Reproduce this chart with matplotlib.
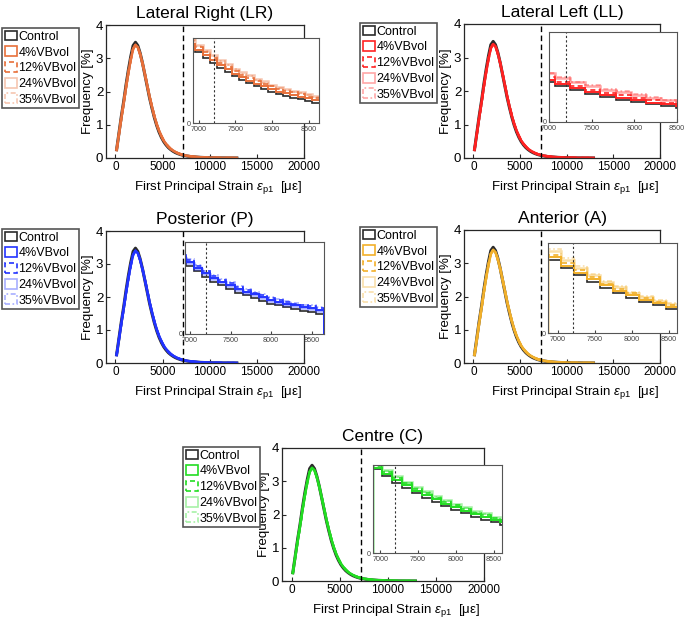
import matplotlib
matplotlib.use('Agg')
import matplotlib.pyplot as plt
from matplotlib.patches import Patch
from matplotlib.colors import to_rgba

plt.rcParams['font.family'] = ['Liberation Sans', 'DejaVu Sans']
plt.rcParams['mathtext.fontset'] = 'custom'
plt.rcParams['mathtext.rm'] = 'Liberation Sans'
plt.rcParams['mathtext.it'] = 'Liberation Sans:italic'

W, H = 687, 623

series_names = ['Control', '4%VBvol', '12%VBvol', '24%VBvol', '35%VBvol']
panel_titles = ['Lateral Right (LR)', 'Lateral Left (LL)', 'Posterior (P)', 'Anterior (A)', 'Centre (C)']
panel_colors = ['#E8703A', '#FF2222', '#2233FF', '#F2B02A', '#22DD22']
main_xticks = [0, 5000, 10000, 15000, 20000]
main_yticks = [0, 1, 2, 3, 4]
inset_xticks = [7000, 7500, 8000, 8500]
threshold = 7200

# main histogram (frequency %, bins of 250 from 0 to 13000)
main_edges = list(range(0, 13001, 250))
main_ctrl = [0.25, 0.75, 1.25, 1.7, 2.2, 2.65, 3.05, 3.38, 3.48, 3.38, 3.15, 2.85, 2.5,
             2.15, 1.8, 1.5, 1.22, 0.98, 0.78, 0.62, 0.49, 0.39, 0.31, 0.25, 0.2, 0.16,
             0.13, 0.105, 0.085, 0.07, 0.058, 0.048, 0.04, 0.033, 0.027, 0.022, 0.018,
             0.015, 0.012, 0.01, 0.008, 0.0065, 0.005, 0.004, 0.0032, 0.0025, 0.002,
             0.0015, 0.0012, 0.001, 0.0008, 0.0006]
main_vb = [0.24, 0.72, 1.2, 1.65, 2.13, 2.57, 2.96, 3.28, 3.4, 3.33, 3.12, 2.84, 2.52,
           2.18, 1.84, 1.54, 1.26, 1.02, 0.82, 0.66, 0.52, 0.42, 0.34, 0.27, 0.22, 0.18,
           0.145, 0.117, 0.095, 0.078, 0.064, 0.053, 0.044, 0.036, 0.03, 0.025, 0.02,
           0.017, 0.014, 0.011, 0.009, 0.0072, 0.0057, 0.0045, 0.0036, 0.0028, 0.0022,
           0.0017, 0.0013, 0.001, 0.0008, 0.0006]

# inset zooms (frequency %), one list per series
lr_edges = list(range(6850, 8651, 100))
lr_ctrl = [0.090, 0.083, 0.077, 0.071, 0.065, 0.060, 0.055, 0.051, 0.047, 0.043, 0.040, 0.037, 0.034, 0.032, 0.030, 0.028, 0.026, 0.024]
lr_4 = [0.093, 0.086, 0.080, 0.074, 0.068, 0.063, 0.058, 0.054, 0.050, 0.046, 0.043, 0.040, 0.037, 0.035, 0.033, 0.031, 0.029, 0.027]
lr_12 = [0.096, 0.089, 0.083, 0.077, 0.071, 0.066, 0.061, 0.057, 0.053, 0.049, 0.046, 0.043, 0.040, 0.038, 0.036, 0.034, 0.031, 0.029]
lr_24 = [0.099, 0.092, 0.086, 0.080, 0.074, 0.069, 0.064, 0.060, 0.056, 0.052, 0.049, 0.045, 0.042, 0.040, 0.038, 0.036, 0.034, 0.032]
lr_35 = [0.098, 0.091, 0.085, 0.079, 0.073, 0.068, 0.063, 0.058, 0.055, 0.051, 0.047, 0.044, 0.041, 0.039, 0.037, 0.035, 0.033, 0.031]

ll_edges = list(range(6895, 8666, 177))
ll_ctrl = [0.045, 0.040, 0.0355, 0.0315, 0.028, 0.025, 0.022, 0.0195, 0.0175, 0.0155]
ll_4 = [0.047, 0.042, 0.0375, 0.0335, 0.030, 0.027, 0.024, 0.0215, 0.0195, 0.0175]
ll_12 = [0.050, 0.045, 0.040, 0.036, 0.0325, 0.0295, 0.0265, 0.024, 0.0215, 0.0195]
ll_24 = [0.054, 0.049, 0.044, 0.040, 0.036, 0.033, 0.030, 0.027, 0.0245, 0.022]
ll_35 = [0.055, 0.050, 0.045, 0.041, 0.037, 0.034, 0.031, 0.028, 0.025, 0.0225]

p_edges = list(range(6850, 8651, 100))
p_ctrl = [0.080, 0.074, 0.068, 0.062, 0.057, 0.053, 0.049, 0.045, 0.042, 0.039, 0.036, 0.033, 0.031, 0.029, 0.027, 0.025, 0.024, 0.022]
p_4 = [0.084, 0.078, 0.072, 0.066, 0.061, 0.057, 0.053, 0.049, 0.046, 0.043, 0.040, 0.037, 0.035, 0.033, 0.031, 0.029, 0.028, 0.026]
p_12 = [0.086, 0.080, 0.074, 0.068, 0.063, 0.059, 0.055, 0.051, 0.048, 0.045, 0.042, 0.039, 0.037, 0.035, 0.033, 0.031, 0.030, 0.028]
p_24 = [0.083, 0.077, 0.071, 0.065, 0.060, 0.056, 0.052, 0.048, 0.045, 0.042, 0.039, 0.036, 0.034, 0.032, 0.030, 0.028, 0.027, 0.025]
p_35 = [0.087, 0.081, 0.075, 0.069, 0.064, 0.060, 0.056, 0.052, 0.049, 0.046, 0.043, 0.040, 0.038, 0.036, 0.034, 0.032, 0.031, 0.029]

a_edges = list(range(6860, 8641, 178))
a_ctrl = [0.081, 0.072, 0.064, 0.057, 0.050, 0.044, 0.039, 0.035, 0.031, 0.027]
a_4 = [0.084, 0.075, 0.067, 0.060, 0.053, 0.047, 0.042, 0.037, 0.033, 0.029]
a_12 = [0.087, 0.078, 0.070, 0.062, 0.055, 0.049, 0.044, 0.039, 0.035, 0.031]
a_24 = [0.091, 0.081, 0.072, 0.064, 0.057, 0.051, 0.045, 0.040, 0.036, 0.032]
a_35 = [0.093, 0.083, 0.074, 0.066, 0.058, 0.052, 0.046, 0.041, 0.037, 0.033]

c_edges = list(range(6900, 8721, 130))
c_ctrl = [0.095, 0.087, 0.080, 0.074, 0.068, 0.063, 0.058, 0.053, 0.049, 0.045, 0.041, 0.038, 0.035, 0.032]
c_4 = [0.097, 0.090, 0.083, 0.077, 0.071, 0.066, 0.061, 0.056, 0.052, 0.048, 0.044, 0.041, 0.038, 0.035]
c_12 = [0.099, 0.092, 0.085, 0.079, 0.073, 0.068, 0.063, 0.058, 0.054, 0.050, 0.046, 0.043, 0.040, 0.037]
c_24 = [0.101, 0.094, 0.087, 0.081, 0.075, 0.070, 0.065, 0.060, 0.056, 0.052, 0.048, 0.045, 0.041, 0.038]
c_35 = [0.100, 0.093, 0.086, 0.080, 0.074, 0.069, 0.064, 0.059, 0.055, 0.051, 0.047, 0.044, 0.040, 0.037]

inset_edges = [lr_edges, ll_edges, p_edges, a_edges, c_edges]
inset_data = [[lr_ctrl, lr_4, lr_12, lr_24, lr_35],
              [ll_ctrl, ll_4, ll_12, ll_24, ll_35],
              [p_ctrl, p_4, p_12, p_24, p_35],
              [a_ctrl, a_4, a_12, a_24, a_35],
              [c_ctrl, c_4, c_12, c_24, c_35]]
inset_xlims = [(6920, 8640), (7000, 8500), (6940, 8650), (6865, 8615), (6905, 8610)]

# layout in pixels: (left, top, right, bottom)
main_boxes = [(106, 25, 304, 158), (464, 24, 660, 158), (106, 231, 304, 363),
              (464, 230, 660, 363), (282, 448, 484, 581)]
inset_boxes = [(193, 38, 319, 123), (549, 32, 677, 122), (185, 242, 324, 334),
               (548, 243, 677, 333), (373, 465, 502, 553)]
legend_corners = [(2, 28), (360, 23), (2, 229), (360, 227), (183, 447)]


def rect(box):
    l, t, r, b = box
    return [l / W, 1 - b / H, (r - l) / W, (b - t) / H]


fig = plt.figure(figsize=(W / 100, H / 100), dpi=100)
ctrl_col = '#2b2b2b'
spine_col = '#262626'
styles = ['-', '-', (0, (3, 2)), '-', (0, (3, 1.5, 1, 1.5))]
main_mid = [(a + b) / 2 for a, b in zip(main_edges[:-1], main_edges[1:])]

for k in range(5):
    col = panel_colors[k]
    light = to_rgba(col, 0.4)
    cols = [ctrl_col, col, col, light, light]
    lws = [1.2, 1.4, 1.2, 1.8, 1.2]

    ax = fig.add_axes(rect(main_boxes[k]))
    ax.plot(main_mid, main_ctrl, color=ctrl_col, lw=2.2)
    for j in range(1, 5):
        ax.plot(main_mid, main_vb, color=cols[j], lw=1.8, ls=styles[j])
    ax.axvline(threshold, color='k', ls=(0, (4, 2.5)), lw=1.0)
    ax.set_xlim(-1000, 20000)
    ax.set_ylim(0, 4)
    ax.set_xticks(main_xticks)
    ax.set_yticks(main_yticks)
    ax.tick_params(direction='in', length=3, labelsize=8.5, pad=2, color=spine_col)
    ax.tick_params(axis='y', labelsize=9.5)
    for s in ax.spines.values():
        s.set_color(spine_col)
        s.set_linewidth(0.9)
    ax.set_title(panel_titles[k], fontsize=12.5, pad=5)
    ax.set_ylabel('Frequency [%]', fontsize=9.5, labelpad=1)
    ax.set_xlabel(r'First Principal Strain $\epsilon_{\mathrm{p1}}$  [με]', fontsize=9.5)
    ax.xaxis.set_label_coords(0.565, -0.16)

    axi = fig.add_axes(rect(inset_boxes[k]), zorder=5)
    ed = inset_edges[k]
    for j in range(5):
        axi.stairs(inset_data[k][j], ed, color=cols[j], lw=lws[j], ls=styles[j])
    axi.axvline(threshold, color='#333333', ls=(0, (2, 2)), lw=0.8)
    axi.set_xlim(*inset_xlims[k])
    axi.set_ylim(0, 0.1)
    axi.set_xticks(inset_xticks)
    axi.set_yticks([0])
    axi.tick_params(direction='in', length=2, labelsize=5.2, pad=1.5, colors='#444444')
    axi.tick_params(axis='x', pad=2.5)
    for s in axi.spines.values():
        s.set_color('#555555')
        s.set_linewidth(0.8)

    handles = [Patch(facecolor='white', edgecolor=cols[j], ls=styles[j], lw=1.2)
               for j in range(5)]
    lx, ly = legend_corners[k]
    leg = ax.legend(handles, series_names, loc='upper left',
                    bbox_to_anchor=(lx / W, 1 - ly / H), bbox_transform=fig.transFigure,
                    fontsize=9.0, handlelength=1.0, handleheight=0.85, handletextpad=0.1,
                    labelspacing=0.27, borderpad=0.2, borderaxespad=0, fancybox=False,
                    framealpha=1)
    leg.get_frame().set_edgecolor('#555555')
    leg.get_frame().set_linewidth(1.2)

fig.savefig('out.png', dpi=100)
